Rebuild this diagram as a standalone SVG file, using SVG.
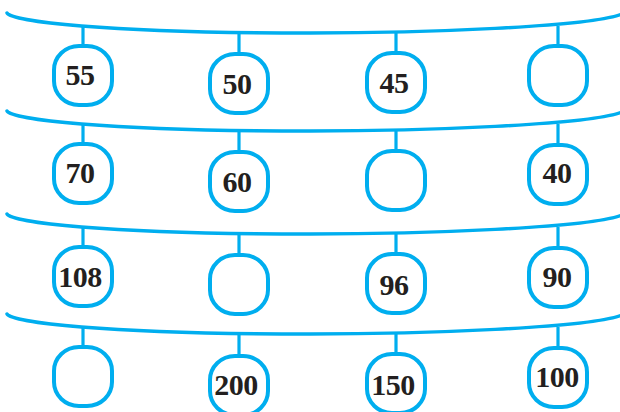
<svg xmlns="http://www.w3.org/2000/svg" width="620" height="412" viewBox="0 0 620 412">
<style>
.wire{fill:none;stroke:#00AEEF;stroke-width:3.4;stroke-linecap:round}
.hang{stroke:#00AEEF;stroke-width:3.2}
.box{fill:#fff;stroke:#00AEEF;stroke-width:4}
.num{font-family:"Liberation Serif","Times New Roman",serif;font-weight:bold;font-size:30px;fill:#231f20;text-anchor:middle;letter-spacing:-0.5px}
</style>
<defs>
<path id="arc" d="M7,13 C12,21 100,33 310,33 C420,33 590,27 622,14"/>
<rect id="bx" x="-29" y="0" width="58" height="59" rx="25" ry="24"/>
</defs>
<g id="connectors">
<use href="#arc" class="wire"/>
<use href="#arc" class="wire" transform="translate(0,98)"/>
<use href="#arc" class="wire" transform="translate(0,201)"/>
<use href="#arc" class="wire" transform="translate(0,301)"/>
<line class="hang" x1="83" y1="27" x2="83" y2="46"/>
<line class="hang" x1="239" y1="32" x2="239" y2="54"/>
<line class="hang" x1="396" y1="32" x2="396" y2="53"/>
<line class="hang" x1="558" y1="26" x2="558" y2="46"/>
<line class="hang" x1="83" y1="125" x2="83" y2="144"/>
<line class="hang" x1="239" y1="130" x2="239" y2="152"/>
<line class="hang" x1="396" y1="130" x2="396" y2="151"/>
<line class="hang" x1="558" y1="124" x2="558" y2="145"/>
<line class="hang" x1="83" y1="228" x2="83" y2="247"/>
<line class="hang" x1="239" y1="233" x2="239" y2="255"/>
<line class="hang" x1="396" y1="233" x2="396" y2="254"/>
<line class="hang" x1="558" y1="227" x2="558" y2="248"/>
<line class="hang" x1="83" y1="328" x2="83" y2="347"/>
<line class="hang" x1="239" y1="333" x2="239" y2="356"/>
<line class="hang" x1="396" y1="333" x2="396" y2="354"/>
<line class="hang" x1="558" y1="327" x2="558" y2="348"/>
</g>
<g id="n1-1"><use href="#bx" class="box" x="83" y="46"/><text class="num" x="80" y="85">55</text></g>
<g id="n1-2"><use href="#bx" class="box" x="239" y="54"/><text class="num" x="237" y="94">50</text></g>
<g id="n1-3"><use href="#bx" class="box" x="396" y="53"/><text class="num" x="394" y="93">45</text></g>
<g id="n1-4"><use href="#bx" class="box" x="558" y="46"/></g>
<g id="n2-1"><use href="#bx" class="box" x="83" y="144"/><text class="num" x="80" y="183">70</text></g>
<g id="n2-2"><use href="#bx" class="box" x="239" y="152"/><text class="num" x="237" y="192">60</text></g>
<g id="n2-3"><use href="#bx" class="box" x="396" y="151"/></g>
<g id="n2-4"><use href="#bx" class="box" x="558" y="145"/><text class="num" x="557" y="183">40</text></g>
<g id="n3-1"><use href="#bx" class="box" x="83" y="247"/><text class="num" x="80" y="287">108</text></g>
<g id="n3-2"><use href="#bx" class="box" x="239" y="255"/></g>
<g id="n3-3"><use href="#bx" class="box" x="396" y="254"/><text class="num" x="394" y="295">96</text></g>
<g id="n3-4"><use href="#bx" class="box" x="558" y="248"/><text class="num" x="557" y="287">90</text></g>
<g id="n4-1"><use href="#bx" class="box" x="83" y="347"/></g>
<g id="n4-2"><use href="#bx" class="box" x="239" y="356"/><text class="num" x="236" y="395">200</text></g>
<g id="n4-3"><use href="#bx" class="box" x="396" y="354"/><text class="num" x="393" y="395">150</text></g>
<g id="n4-4"><use href="#bx" class="box" x="558" y="348"/><text class="num" x="557" y="387">100</text></g>
</svg>
